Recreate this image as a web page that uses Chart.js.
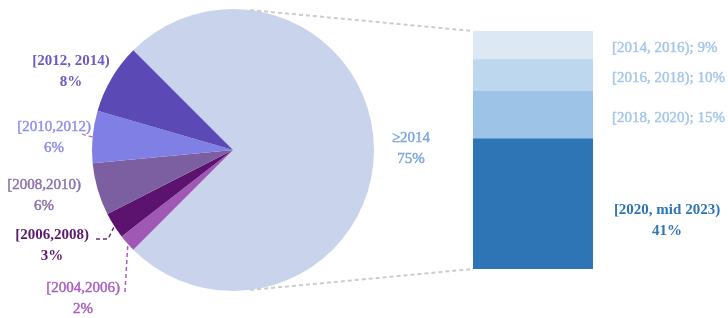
<!DOCTYPE html>
<html>
<head>
<meta charset="utf-8">
<script src="https://cdn.jsdelivr.net/npm/chart.js@4"></script>
<style>
  html, body { margin: 0; padding: 0; background: #fff; }
  #wrap { position: relative; width: 728px; height: 318px; }
  #wrap canvas { position: absolute; left: 0; top: 0; }
</style>
</head>
<body>
<div id="wrap">
  <canvas id="pieChart" width="728" height="318"></canvas>
  <canvas id="barChart" width="728" height="318"></canvas>
</div>
<script>
// pie: share of each period (starts with the big slice, then clockwise)
const pieLabels = ['≥2014', '[2004,2006)', '[2006,2008)', '[2008,2010)', '[2010,2012)', '[2012, 2014)'];
const pieValues = [75, 2, 3, 6, 6, 8];
const pieColors = ['#c9d3ec', '#a058b5', '#5c136f', '#7c5fa0', '#7f7fe6', '#5b4ab5'];

// bar: breakdown of the ≥2014 slice, bottom to top
const barLabels = ['[2020, mid 2023)', '[2018, 2020)', '[2016, 2018)', '[2014, 2016)'];
const barValues = [41, 15, 10, 9];
const barColors = ['#2e75b6', '#9dc3e6', '#bdd7ee', '#dde8f5'];

const serif = '"Liberation Serif", "DejaVu Serif", serif';

function drawText(ctx, lines, x, y, color, bold, align) {
    ctx.save();
    ctx.fillStyle = color;
    ctx.strokeStyle = color;
    ctx.lineWidth = 0.45;
    ctx.font = (bold ? 'bold ' : '') + '15px ' + serif;
    ctx.textAlign = align || 'center';
    ctx.textBaseline = 'middle';
    lines.forEach(function (t, i) {
        ctx.fillText(t, x, y + i * 21);
        if (!bold) ctx.strokeText(t, x, y + i * 21); // a bit heavier, like the original font
    });
    ctx.restore();
}

function dashed(ctx, pts, color, width) {
    ctx.save();
    ctx.strokeStyle = color;
    ctx.lineWidth = width || 1.5;
    ctx.setLineDash([4, 3]);
    ctx.beginPath();
    ctx.moveTo(pts[0][0], pts[0][1]);
    for (let i = 1; i < pts.length; i++) ctx.lineTo(pts[i][0], pts[i][1]);
    ctx.stroke();
    ctx.restore();
}

// labels around the pie
const pieLabelPlugin = {
    id: 'pieLabels',
    afterDraw(chart) {
        const ctx = chart.ctx;
        const v = pieValues;
        drawText(ctx, [pieLabels[5], v[5] + '%'], 71, 61, '#6b5bc4', true);
        drawText(ctx, [pieLabels[4], v[4] + '%'], 54, 127, '#8f8fe6', false);
        drawText(ctx, [pieLabels[3], v[3] + '%'], 44, 185, '#8a72aa', false);
        drawText(ctx, [pieLabels[2], v[2] + '%'], 52, 235, '#5a1a6e', true);
        drawText(ctx, [pieLabels[1], v[1] + '%'], 83, 288, '#a860c0', false);
        drawText(ctx, [pieLabels[0], v[0] + '%'], 411, 138, '#7ea6de', false);

        // leader lines for the thin slices
        dashed(ctx, [[82, 134], [88, 136], [94, 137]], '#c46a9a', 1.3);
        dashed(ctx, [[96, 239], [108, 239], [115, 225]], '#6a2a80', 1.5);
        dashed(ctx, [[125, 292], [128, 241]], '#a860c0', 1.5);
    }
};

// connector lines from the pie to the bar, and bar labels
const barLabelPlugin = {
    id: 'barLabels',
    afterDraw(chart) {
        const ctx = chart.ctx;
        const bars = chart.data.datasets.map(function (ds, i) {
            return chart.getDatasetMeta(i).data[0];
        });
        const top = bars[bars.length - 1];
        const bottom = bars[0];
        const left = top.x - top.width / 2;

        const pie = Chart.getChart('pieChart');
        const arc = pie.getDatasetMeta(0).data[0];
        const a = 83 * Math.PI / 180;
        const px = arc.x + arc.outerRadius * Math.cos(a);
        dashed(ctx, [[px, arc.y - arc.outerRadius * Math.sin(a)], [left, top.y]], '#cccccc', 2);
        dashed(ctx, [[px, arc.y + arc.outerRadius * Math.sin(a)], [left, bottom.base]], '#cccccc', 2);

        const tx = top.x + top.width / 2 + 19;
        for (let i = 1; i < bars.length; i++) {
            const b = bars[i];
            const cy = (b.y + b.base) / 2 + 3;
            drawText(ctx, [barLabels[i] + '; ' + barValues[i] + '%'], tx, cy, '#a5c6ea', false, 'left');
        }
        const cy0 = (bottom.y + bottom.base) / 2 + 6;
        drawText(ctx, [barLabels[0], barValues[0] + '%'], 667, cy0, '#2e75b6', true);
    }
};

new Chart(document.getElementById('pieChart').getContext('2d'), {
    type: 'pie',
    data: {
        labels: pieLabels,
        datasets: [{
            data: pieValues,
            backgroundColor: pieColors,
            borderWidth: 0
        }]
    },
    options: {
        responsive: false,
        animation: false,
        rotation: -45,
        layout: { padding: { left: 92, right: 354, top: 9, bottom: 27 } },
        plugins: { legend: { display: false }, tooltip: { enabled: false } }
    },
    plugins: [pieLabelPlugin]
});

new Chart(document.getElementById('barChart').getContext('2d'), {
    type: 'bar',
    data: {
        labels: [''],
        datasets: barValues.map(function (v, i) {
            return {
                label: barLabels[i],
                data: [v],
                backgroundColor: barColors[i],
                borderWidth: 0,
                barPercentage: 1,
                categoryPercentage: 1
            };
        })
    },
    options: {
        responsive: false,
        animation: false,
        layout: { padding: { left: 473, right: 135, top: 31, bottom: 49 } },
        scales: {
            x: { stacked: true, display: false },
            y: { stacked: true, display: false, min: 0, max: 75 }
        },
        plugins: { legend: { display: false }, tooltip: { enabled: false } }
    },
    plugins: [barLabelPlugin]
});
</script>
</body>
</html>
